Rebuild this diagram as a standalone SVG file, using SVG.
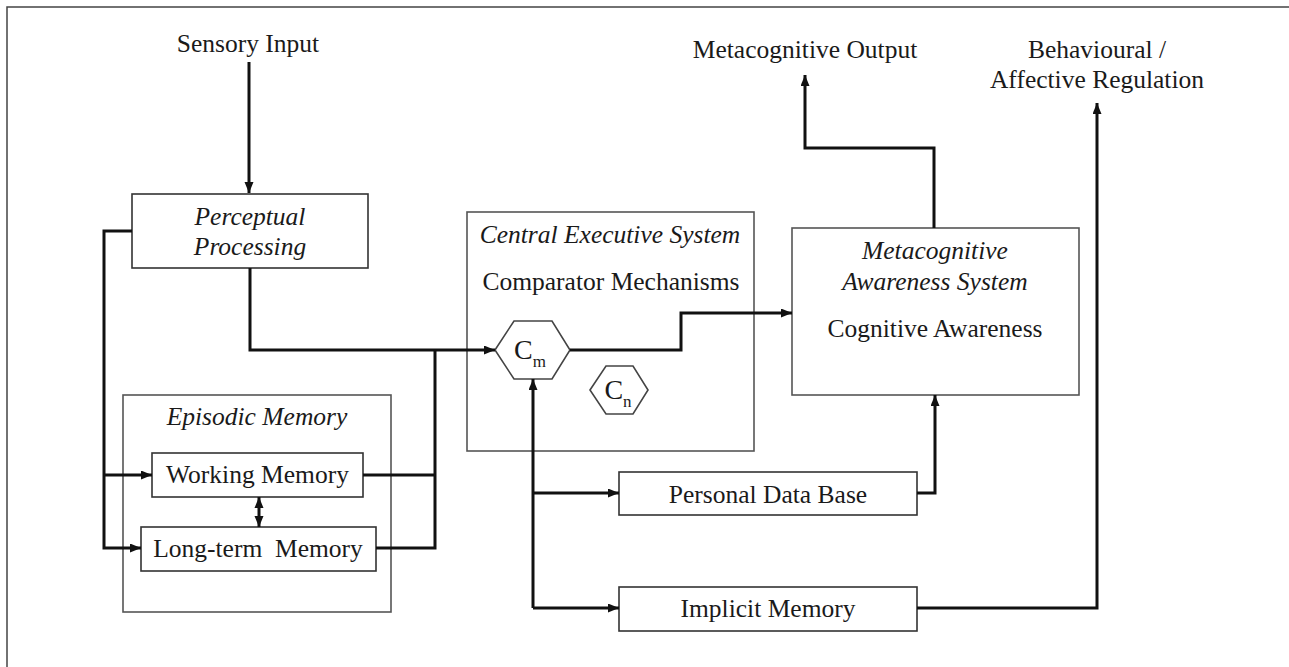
<svg xmlns="http://www.w3.org/2000/svg" width="1289" height="667" viewBox="0 0 1289 667">
<style>
text{font-family:"Liberation Serif","Times New Roman",serif;font-size:25.5px;fill:#1a1a1a;text-anchor:middle}
.it{font-style:italic}
.box{fill:#fff;stroke:#333;stroke-width:1.6}
.cont{fill:none;stroke:#555;stroke-width:1.6}
.c{fill:none;stroke:#111;stroke-width:3;stroke-linejoin:miter}
.cc{font-size:28px}
.sub{font-size:17px}
</style>
<defs>
<marker id="ah" markerUnits="userSpaceOnUse" markerWidth="12" markerHeight="10" refX="11" refY="4.5" orient="auto">
<path d="M0,0 L11,4.5 L0,9 z" fill="#111"/>
</marker>
<marker id="ahs" markerUnits="userSpaceOnUse" markerWidth="12" markerHeight="10" refX="0" refY="4.5" orient="auto">
<path d="M11,0 L0,4.5 L11,9 z" fill="#111"/>
</marker>
</defs>
<rect width="1289" height="667" fill="#fff"/>
<path d="M7,667 L7,7 L1289,7" fill="none" stroke="#444" stroke-width="1.5"/>

<g id="episodic-memory">
<rect class="cont" x="123" y="395" width="268" height="217"/>
<text class="it" x="257" y="425">Episodic Memory</text>
</g>
<g id="central-executive">
<rect class="cont" x="467" y="212" width="287" height="239"/>
<text class="it" x="610" y="243">Central Executive System</text>
<text x="611" y="290">Comparator Mechanisms</text>
</g>
<g id="metacognitive-awareness">
<rect class="cont" x="792" y="228" width="287" height="167"/>
<text class="it" x="935" y="259">Metacognitive</text>
<text class="it" x="935" y="290">Awareness System</text>
<text x="935" y="337">Cognitive Awareness</text>
</g>
<g id="sensory-input"><text x="248" y="52">Sensory Input</text></g>
<g id="metacognitive-output"><text x="805" y="58">Metacognitive Output</text></g>
<g id="behavioural-regulation">
<text x="1097" y="58">Behavioural /</text>
<text x="1097" y="88">Affective Regulation</text>
</g>
<g id="perceptual-processing">
<rect class="box" x="132" y="194" width="236" height="74"/>
<text class="it" x="250" y="225">Perceptual</text>
<text class="it" x="250" y="255">Processing</text>
</g>
<g id="working-memory">
<rect class="box" x="152" y="453" width="211" height="44"/>
<text x="257.5" y="483">Working Memory</text>
</g>
<g id="long-term-memory">
<rect class="box" x="141" y="527" width="235" height="44"/>
<text x="258" y="557" xml:space="preserve">Long-term  Memory</text>
</g>
<g id="cm">
<polygon points="495,350 514,321 552,321 570,350 552,379 514,379" fill="#fff" stroke="#444" stroke-width="1.6"/>
<text class="cc" x="530" y="359">C<tspan class="sub" dy="8">m</tspan></text>
</g>
<g id="cn">
<polygon points="590,390 606,366 633,366 648,390 633,414 606,414" fill="#fff" stroke="#444" stroke-width="1.6"/>
<text class="cc" x="618" y="399">C<tspan class="sub" dy="8">n</tspan></text>
</g>
<g id="personal-data-base">
<rect class="box" x="619" y="472" width="298" height="43"/>
<text x="768" y="503">Personal Data Base</text>
</g>
<g id="implicit-memory">
<rect class="box" x="619" y="587" width="298" height="44"/>
<text x="768" y="617">Implicit Memory</text>
</g>

<g id="connectors">
<path class="c" d="M249,62 L249,193" marker-end="url(#ah)"/>
<path class="c" d="M132,231 L104,231 L104,548 L141,548" marker-end="url(#ah)"/>
<path class="c" d="M104,475 L152,475" marker-end="url(#ah)"/>
<path class="c" d="M250,268 L250,350 L495,350" marker-end="url(#ah)"/>
<path class="c" d="M363,475 L435,475"/>
<path class="c" d="M376,548 L435,548 L435,350"/>
<path class="c" d="M570,350 L681,350 L681,313 L792,313" marker-end="url(#ah)"/>
<path class="c" d="M533,608 L533,379" marker-end="url(#ah)"/>
<path class="c" d="M533,493 L619,493" marker-end="url(#ah)"/>
<path class="c" d="M533,608 L619,608" marker-end="url(#ah)"/>
<path class="c" d="M259,497 L259,527" stroke-width="2.5" marker-start="url(#ahs)" marker-end="url(#ah)"/>
<path class="c" d="M917,493 L935,493 L935,395" marker-end="url(#ah)"/>
<path class="c" d="M934,228 L934,148 L805,148 L805,75" marker-end="url(#ah)"/>
<path class="c" d="M917,608 L1097,608 L1097,103" marker-end="url(#ah)"/>
</g>
</svg>
